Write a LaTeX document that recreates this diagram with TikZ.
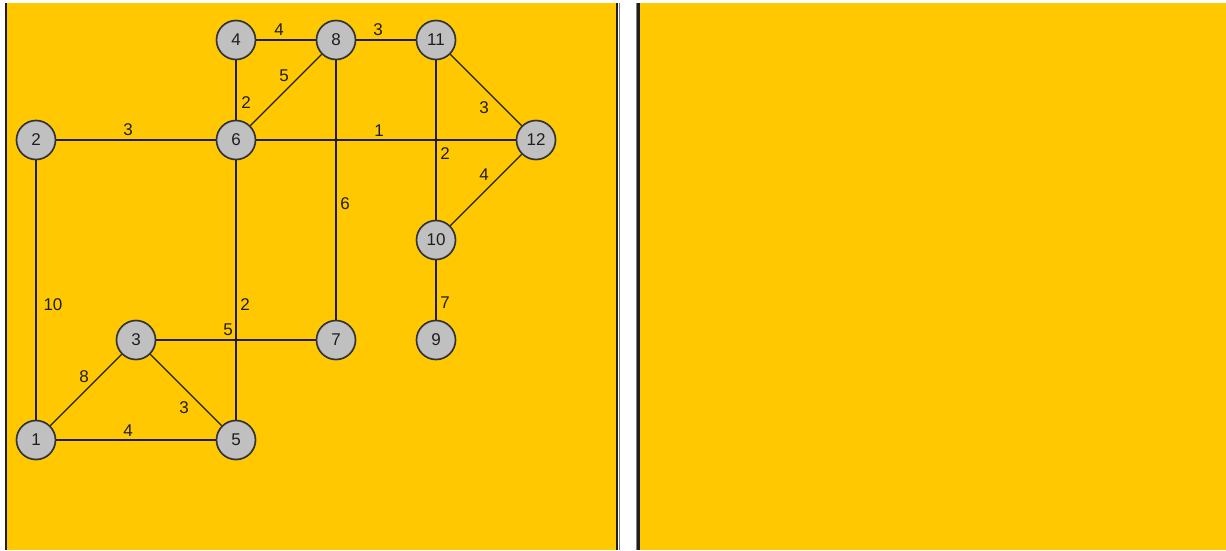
\documentclass[tikz,border=0pt]{standalone}
\usepackage{fontspec}
\setmainfont{Liberation Sans}
\definecolor{panel}{HTML}{FFC800}
\definecolor{vertexfill}{HTML}{C0C0C0}
\definecolor{ink}{HTML}{1E1E1E}
\definecolor{rim}{HTML}{333333}
\begin{document}
\begin{tikzpicture}[x=1pt,y=-1pt,
  vertex/.style={circle,draw=rim,line width=1.7pt,fill=vertexfill,minimum size=39pt,inner sep=0pt,font=\fontsize{17}{17}\selectfont,text=ink},
  edge/.style={draw=ink,line width=1.6pt},
  thinedge/.style={edge,line width=1.3pt},
  weight/.style={font=\fontsize{17}{17}\selectfont,text=ink,inner sep=0pt}]
  % page and the two panels
  \fill[white] (0,0) rectangle (1226,550);
  \useasboundingbox (0,0) rectangle (1226,550);
  \fill[panel] (5,3) rectangle (618,550);
  \fill[panel] (637,3) rectangle (1226,550);
  \draw[ink,line width=2pt] (6,3) -- (6,550);
  \draw[ink,line width=2.5pt] (617,3) -- (617,550);
  \draw[gray,line width=1pt] (619.5,3) -- (619.5,550);
  \draw[gray,line width=1pt] (636.5,3) -- (636.5,550);
  \draw[ink,line width=2.5pt] (638.5,3) -- (638.5,550);

  % vertices
  \node[vertex] (n4)  at (236,40)  {4};
  \node[vertex] (n8)  at (336,40)  {8};
  \node[vertex] (n11) at (436,40)  {11};
  \node[vertex] (n2)  at (36,140)  {2};
  \node[vertex] (n6)  at (236,140) {6};
  \node[vertex] (n12) at (536,140) {12};
  \node[vertex] (n10) at (436,240) {10};
  \node[vertex] (n3)  at (136,340) {3};
  \node[vertex] (n7)  at (336,340) {7};
  \node[vertex] (n9)  at (436,340) {9};
  \node[vertex] (n1)  at (36,440)  {1};
  \node[vertex] (n5)  at (236,440) {5};

  % edges
  \draw[edge] (n4) -- (n8);
  \draw[edge] (n8) -- (n11);
  \draw[edge] (n4) -- (n6);
  \draw[thinedge] (n6) -- (n8);
  \draw[edge] (n2) -- (n6);
  \draw[edge] (n6) -- (n12);
  \draw[thinedge] (n11) -- (n12);
  \draw[edge] (n11) -- (n10);
  \draw[thinedge] (n10) -- (n12);
  \draw[edge] (n8) -- (n7);
  \draw[edge] (n6) -- (n5);
  \draw[edge] (n2) -- (n1);
  \draw[edge] (n3) -- (n7);
  \draw[edge] (n10) -- (n9);
  \draw[thinedge] (n1) -- (n3);
  \draw[thinedge] (n3) -- (n5);
  \draw[edge] (n1) -- (n5);

  % edge weights
  \node[weight] (w48)   at (279,30)  {4};
  \node[weight] (w811)  at (378,30)  {3};
  \node[weight] (w46)   at (246,103) {2};
  \node[weight] (w68)   at (284,76)  {5};
  \node[weight] (w26)   at (128,130) {3};
  \node[weight] (w612)  at (379,131) {1};
  \node[weight] (w1112) at (484,108) {3};
  \node[weight] (w1110) at (445,154) {2};
  \node[weight] (w1012) at (484,175) {4};
  \node[weight] (w87)   at (345,204) {6};
  \node[weight] (w65)   at (245,305) {2};
  \node[weight] (w21)   at (53,305)  {10};
  \node[weight] (w37)   at (228,330) {5};
  \node[weight] (w109)  at (445,303) {7};
  \node[weight] (w13)   at (84,377)  {8};
  \node[weight] (w35)   at (184,408) {3};
  \node[weight] (w15)   at (128,431) {4};
\end{tikzpicture}
\end{document}
